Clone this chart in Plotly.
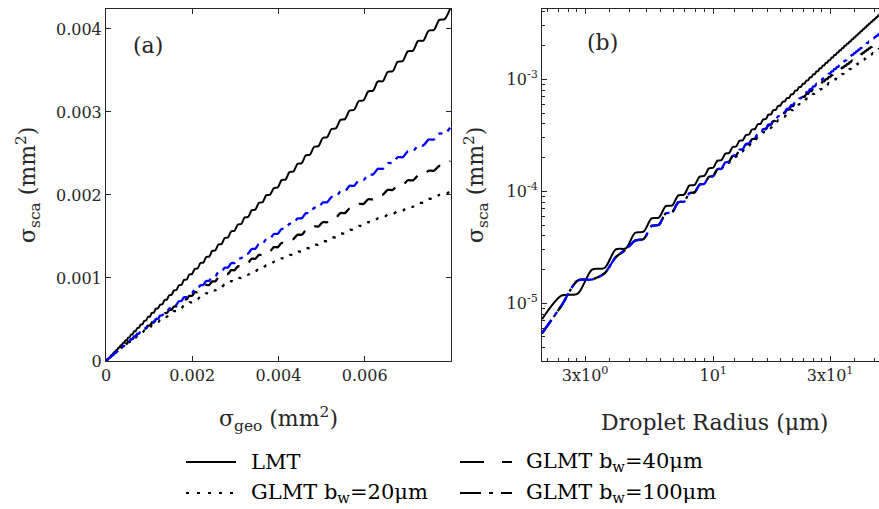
import numpy as np
import plotly.graph_objects as go

# ---------------- data ----------------
radius_um = [2.0, 2.4, 2.8, 3.2, 3.6, 4.0, 4.4, 4.8, 5.2, 5.6, 6.0, 6.4, 6.8, 7.2, 7.6, 8.0,
             8.4, 8.8, 9.2, 9.6, 10.0, 10.4, 10.8, 11.2, 11.6, 12.0, 12.4, 12.8, 13.2, 13.6,
             14.0, 14.4, 14.8, 15.2, 15.6, 16.0, 16.4, 16.8, 17.2, 17.6, 18.0, 18.4, 18.8,
             19.2, 19.6, 20.0, 20.4, 20.8, 21.2, 21.6, 22.0, 22.4, 22.8, 23.2, 23.6, 24.0,
             24.4, 24.8, 25.2, 25.6, 26.0, 26.4, 26.8, 27.2, 27.6, 28.0, 28.4, 28.8, 29.2,
             29.6, 30.0, 30.4, 30.8, 31.2, 31.6, 32.0, 32.4, 32.8, 33.2, 33.6, 34.0, 34.4,
             34.8, 35.2, 35.6, 36.0, 36.4, 36.8, 37.2, 37.6, 38.0, 38.4, 38.8, 39.2, 39.6,
             40.0, 40.4, 40.8, 41.2, 41.6, 42.0, 42.4, 42.8, 43.2, 43.6, 44.0, 44.4, 44.8,
             45.2, 45.6, 46.0, 46.4, 46.8, 47.2, 47.6, 48.0, 48.4, 48.8, 49.2, 49.6, 50.0, 50.4]

# scattering cross sections in um^2
lmt_um2 = [7.2, 11.70, 12.20, 20.00, 20.64, 30.27, 30.97, 42.63, 43.58, 57.27, 58.25, 73.73,
           74.79, 92.10, 93.42, 112.78, 114.21, 135.45, 137.25, 160.39, 162.35, 187.74, 189.86,
           217.24, 219.52, 248.90, 251.33, 282.70, 285.30, 318.66, 321.41, 356.76, 359.68,
           397.02, 400.10, 439.43, 442.67, 483.99, 487.39, 530.70, 534.26, 579.57, 583.28,
           630.58, 634.46, 679.92, 683.93, 734.92, 739.09, 792.07, 796.40, 851.36, 855.84,
           912.78, 917.43, 976.35, 981.15, 1042.05, 1047.01, 1109.89, 1115.02, 1179.88,
           1185.16, 1251.99, 1257.44, 1326.26, 1331.86, 1402.66, 1408.42, 1481.20, 1487.12,
           1561.88, 1567.96, 1644.70, 1650.93, 1729.66, 1736.05, 1816.75, 1823.31, 1905.99,
           1912.70, 1997.36, 2004.23, 2083.02, 2090.02, 2178.31, 2185.47, 2275.74, 2283.06,
           2375.30, 2382.77, 2476.98, 2484.62, 2580.80, 2588.60, 2686.75, 2694.71, 2794.84,
           2802.95, 2905.05, 2913.32, 3017.39, 3025.82, 3131.87, 3140.46, 3248.48, 3257.22,
           3367.22, 3369.75, 3481.50, 3490.55, 3604.27, 3613.48, 3729.17, 3738.53, 3856.19,
           3858.40, 3977.81, 3987.47, 4108.84, 4118.65, 4241.99]

glmt_bw20_um2 = [5.4, 9.5, 16.0, 16.3, 18.5, 25.8, 30.2, 36.28, 37.48, 48.94, 50.34, 63.49,
                 65.08, 79.93, 80.84, 96.17, 98.10, 114.70, 116.80, 134.61, 136.87,
                 156.54, 157.90, 178.73, 180.08, 202.01,
                 203.46, 226.67, 228.10, 252.32, 253.76, 278.99, 280.31,
                 306.79, 308.56, 336.30, 338.05, 366.81, 368.53, 398.28, 399.95, 430.64,
                 432.26, 463.86, 465.41, 497.89,
                 498.84, 531.57, 532.38, 565.79, 566.44, 600.48, 600.97, 635.60, 635.91,
                 671.08, 671.20, 706.87, 706.78, 742.91, 742.59, 779.13, 778.58, 815.49,
                 814.69, 851.93, 850.86, 888.37, 887.03, 924.78, 923.15,
                 962.26, 961.52, 1000.95, 999.96, 1039.68, 1038.43, 1078.41, 1076.89,
                 1117.06, 1115.28, 1155.63, 1153.56, 1194.82, 1194.04, 1236.36, 1235.35,
                 1277.94, 1276.70, 1319.53, 1318.05, 1361.09, 1359.36, 1402.58, 1400.59, 1443.97,
                 1443.74, 1489.42, 1489.02, 1535.02, 1534.44, 1580.75, 1579.97, 1626.56,
                 1625.58, 1672.43, 1671.25, 1718.34, 1716.94, 1764.91, 1763.95, 1812.17,
                 1811.02, 1859.48, 1858.13, 1906.81, 1905.24, 1953.36, 1951.58, 2000.61,
                 1998.60, 2047.79]

glmt_bw40_um2 = [5.4, 9.5, 16.0, 16.3, 18.5, 25.8, 30.2, 36.28, 37.48, 48.94, 50.34, 63.49,
                 65.08, 79.93, 80.84, 96.17, 98.10, 114.70, 116.80, 134.61, 136.87, 157.59,
                 158.97, 181.16, 183.78, 206.65,
                 208.97, 233.69, 236.11, 262.25, 264.77, 292.30, 294.92, 323.83,
                 326.24, 356.15, 358.60, 389.76, 392.25, 424.53, 427.05, 460.61, 463.15,
                 497.77, 500.32, 536.19,
                 538.48, 575.17, 577.44, 615.16, 617.39, 656.12, 658.30, 697.99, 700.12,
                 740.76, 742.82, 784.37, 785.97, 827.54, 828.60, 870.87, 871.78, 914.72,
                 915.46, 959.04, 959.60, 1003.77, 1004.14, 1048.87, 1049.04,
                 1094.28, 1094.24, 1139.97, 1139.71, 1185.88, 1185.38, 1231.97, 1231.22,
                 1278.18, 1277.18, 1324.47, 1323.20, 1371.57, 1371.61, 1421.20, 1421.02,
                 1471.05, 1470.66, 1521.09, 1520.48, 1571.28, 1570.44, 1621.58, 1620.50, 1671.96,
                 1672.67, 1726.59, 1727.13, 1781.55, 1781.93, 1836.81, 1837.01, 1892.34,
                 1892.36, 1948.11, 1947.94, 2004.09, 2003.73, 2060.92, 2061.02, 2118.63,
                 2118.55, 2176.56, 2176.30, 2234.69, 2234.23, 2292.23, 2291.57, 2350.64,
                 2349.78, 2409.16]

glmt_bw100_um2 = [5.4, 9.5, 16.0, 16.3, 18.5, 25.8, 30.2, 36.28, 37.48, 48.94, 50.34, 63.49,
                  65.08, 79.93, 80.84, 96.17, 98.10, 114.70, 116.80, 134.61, 136.87, 157.59,
                  158.97, 181.16, 183.78, 206.65, 209.44, 234.75, 237.71, 264.63, 267.78,
                  294.30, 297.61, 327.54,
                  329.53, 360.09, 362.83, 394.73, 397.63, 430.77, 433.75, 468.30, 471.23,
                  507.07, 510.17, 547.17,
                  550.32, 588.70, 591.77, 631.38, 634.48, 675.30, 678.59, 720.45, 723.77,
                  766.98, 770.14, 814.51, 817.88, 863.18, 866.57, 913.20, 916.37, 964.11,
                  967.51, 1016.08, 1019.48, 1069.37, 1072.50, 1123.43, 1126.81,
                  1178.48, 1181.84, 1234.81, 1237.84, 1291.80, 1295.10, 1349.70, 1352.97,
                  1408.50, 1411.73, 1468.55, 1471.35, 1529.08, 1532.20, 1590.43, 1593.49,
                  1653.00, 1655.57, 1715.93, 1718.86, 1779.60, 1782.46, 1844.48, 1846.77, 1909.58,
                  1912.27, 1975.35, 1977.95, 2042.32, 2044.26, 2109.37, 2111.76, 2177.01,
                  2179.30, 2245.84, 2247.39, 2314.61, 2316.02, 2383.90, 2385.82, 2453.69,
                  2455.47, 2524.64, 2525.58, 2595.35, 2596.86, 2666.48, 2667.83, 2738.78,
                  2739.20, 2810.69]

series_names = ["LMT", "GLMT b<sub>w</sub>=20μm", "GLMT b<sub>w</sub>=40μm", "GLMT b<sub>w</sub>=100μm"]

x_ticks_a = [0, 0.002, 0.004, 0.006]
x_ticklabels_a = ["0", "0.002", "0.004", "0.006"]
y_ticks_a = [0, 0.001, 0.002, 0.003, 0.004]
y_ticklabels_a = ["0", "0.001", "0.002", "0.003", "0.004"]
x_ticks_b = [3, 10, 30]
x_ticklabels_b = ["3x10<sup>0</sup>", "10<sup>1</sup>", "3x10<sup>1</sup>"]
y_ticks_b = [1e-5, 1e-4, 1e-3]
y_ticklabels_b = ["10<sup>-5</sup>", "10<sup>-4</sup>", "10<sup>-3</sup>"]

# ---------------- styling ----------------
W, H = 879, 509
def fx(p):
    return p / W
def fy(p):
    return 1 - p / H

AX = "#262626"
FONT = "DejaVu Serif"

styles = [
    dict(color="#000000", width=2.0, dash="solid"),
    dict(color="#000000", width=2.3, dash="3px,7px"),
    dict(color="#000000", width=2.3, dash="16px,11px"),
    dict(color="#0000ff", width=2.3, dash="16px,6px,4px,6px"),
]
data = [lmt_um2, glmt_bw20_um2, glmt_bw40_um2, glmt_bw100_um2]

r_um = np.array(radius_um)
sigma_geo_mm2 = np.pi * (r_um * 1e-3) ** 2

fig = go.Figure()
for name, vals, st in zip(series_names, data, styles):
    s = np.array(vals) * 1e-6  # um^2 -> mm^2
    fig.add_trace(go.Scatter(x=sigma_geo_mm2, y=s, mode="lines", name=name,
                             line=dict(shape="spline", smoothing=0.8, **st),
                             showlegend=False, xaxis="x", yaxis="y"))
    fig.add_trace(go.Scatter(x=r_um, y=s, mode="lines", name=name,
                             line=dict(shape="spline", smoothing=0.8, **st),
                             showlegend=False, xaxis="x2", yaxis="y2"))

# MATLAB-like minor ticks on the log radius axis (9 linear steps per major interval)
minor_x_b = []
for a, b in [(1, 3), (3, 10), (10, 30), (30, 100)]:
    minor_x_b += [a + (b - a) * i / 9 for i in range(1, 9)]
minor_y_b = []
for e in [-6, -5, -4, -3]:
    minor_y_b += [m * 10.0 ** e for m in range(2, 10)]

base_ax = dict(showline=True, linecolor=AX, linewidth=1, ticks="inside", tickcolor=AX,
               tickwidth=1, showgrid=False, zeroline=False, automargin=False,
               tickfont=dict(family=FONT, size=16, color=AX))

fig.update_layout(
    width=W, height=H, margin=dict(l=0, r=0, t=0, b=0),
    paper_bgcolor="white", plot_bgcolor="white", showlegend=False,
    xaxis=dict(domain=[fx(106), fx(451)], range=[0, 0.008], tickmode="array",
               tickvals=x_ticks_a, ticktext=x_ticklabels_a, ticklen=5, mirror="ticks",
               anchor="y", **base_ax),
    yaxis=dict(domain=[fy(361), fy(9)], range=[0, 0.00424], tickmode="array",
               tickvals=y_ticks_a, ticktext=y_ticklabels_a, ticklen=5, mirror="ticks",
               anchor="x", **base_ax),
    xaxis2=dict(type="log", domain=[fx(542), 1.0], range=[np.log10(2.0), np.log10(47.5)],
                tickmode="array", tickvals=x_ticks_b, ticktext=x_ticklabels_b, ticklen=5,
                mirror="ticks", anchor="y2",
                minor=dict(tickmode="array", tickvals=minor_x_b, ticks="inside", ticklen=3,
                           tickcolor=AX, tickwidth=1),
                **base_ax),
    yaxis2=dict(type="log", domain=[fy(361), fy(9)],
                range=[np.log10(3.05e-6), np.log10(4.25e-3)],
                tickmode="array", tickvals=y_ticks_b, ticktext=y_ticklabels_b, ticklen=5,
                mirror=False, anchor="x2",
                minor=dict(tickmode="array", tickvals=minor_y_b, ticks="inside", ticklen=3,
                           tickcolor=AX, tickwidth=1),
                **base_ax),
)

title_font = dict(family=FONT, size=22, color=AX)
ann = [
    dict(text="σ<sub>sca</sub> (mm<sup>2</sup>)", x=fx(28), y=fy(185), textangle=-90),
    dict(text="σ<sub>geo</sub> (mm<sup>2</sup>)", x=fx(278), y=fy(419)),
    dict(text="σ<sub>sca</sub> (mm<sup>2</sup>)", x=fx(476), y=fy(185), textangle=-90),
    dict(text="Droplet Radius (μm)", x=fx(714), y=fy(422)),
    dict(text="(a)", x=fx(148), y=fy(45)),
    dict(text="(b)", x=fx(602), y=fy(43)),
]
for a in ann:
    fig.add_annotation(xref="paper", yref="paper", xanchor="center", yanchor="middle",
                       showarrow=False, font=title_font, **a)

# legend (two columns)
leg_font = dict(family=FONT, size=21, color="#000000")
leg_items = [
    (series_names[0], 186, 236, 249, 462, dict(color="#000000", width=2, dash="solid")),
    (series_names[1], 186, 236, 249, 493, dict(color="#000000", width=2, dash="3px,8px")),
    (series_names[2], 460, 512, 524, 462, dict(color="#000000", width=2, dash="24px,18px")),
    (series_names[3], 460, 512, 524, 493, dict(color="#000000", width=2, dash="21px,8px,4px,8px")),
]
for name, x0, x1, xt, yy, ln in leg_items:
    fig.add_shape(type="line", xref="paper", yref="paper", x0=fx(x0), x1=fx(x1),
                  y0=fy(yy), y1=fy(yy), line=ln)
    fig.add_annotation(xref="paper", yref="paper", x=fx(xt), y=fy(yy), xanchor="left",
                       yanchor="middle", showarrow=False, text=name, font=leg_font)

fig.write_html("out.html", config={"displayModeBar": False},
               post_script="document.body.style.margin='0px';document.body.style.padding='0px';")
